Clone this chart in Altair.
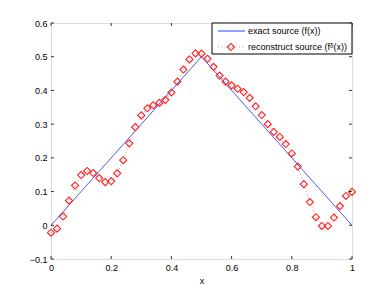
import altair as alt
import pandas as pd

# ---- data ----
x_vals = [0.00, 0.02, 0.04, 0.06, 0.08, 0.10, 0.12, 0.14, 0.16, 0.18,
          0.20, 0.22, 0.24, 0.26, 0.28, 0.30, 0.32, 0.34, 0.36, 0.38,
          0.40, 0.42, 0.44, 0.46, 0.48, 0.50, 0.52, 0.54, 0.56, 0.58,
          0.60, 0.62, 0.64, 0.66, 0.68, 0.70, 0.72, 0.74, 0.76, 0.78,
          0.80, 0.82, 0.84, 0.86, 0.88, 0.90, 0.92, 0.94, 0.96, 0.98, 1.00]
recon_vals = [-0.022, -0.010, 0.026, 0.073, 0.118, 0.149, 0.161, 0.155, 0.140, 0.128,
              0.131, 0.154, 0.193, 0.243, 0.291, 0.326, 0.347, 0.356, 0.363, 0.372,
              0.394, 0.426, 0.462, 0.492, 0.510, 0.509, 0.494, 0.470, 0.444, 0.426,
              0.415, 0.405, 0.395, 0.378, 0.353, 0.327, 0.300, 0.277, 0.262, 0.241,
              0.213, 0.174, 0.122, 0.069, 0.024, -0.002, -0.002, 0.023, 0.057, 0.087, 0.099]
exact_x = [0.0, 0.5, 1.0]
exact_y = [0.0, 0.5, 0.0]
x_ticks = [0, 0.2, 0.4, 0.6, 0.8, 1.0]
y_ticks = [-0.1, 0, 0.1, 0.2, 0.3, 0.4, 0.5, 0.6]
legend_labels = ["exact source (f(x))", "reconstruct source (f\u1d5f(x))"]

W, H = 301, 236
FONT = "Liberation Sans"
BLUE = "#4a5ef2"
RED = "#ff2020"

recon = pd.DataFrame({"x": x_vals, "y": recon_vals})
exact = pd.DataFrame({"x": exact_x, "y": exact_y})
xt = pd.DataFrame({"x": x_ticks})
yt = pd.DataFrame({"y": y_ticks})

xs = alt.Scale(domain=[0, 1], nice=False, zero=False)
ys = alt.Scale(domain=[-0.1, 0.6], nice=False, zero=False)

xaxis = alt.Axis(values=x_ticks, format="~g", ticks=False, domain=False, grid=False,
                 labelPadding=4, labelOverlap=False, labelFlush=False, labelBound=False,
                 title="x", titlePadding=4,
                 labelFont=FONT, labelFontSize=9, labelColor="black",
                 titleFont=FONT, titleFontSize=9, titleFontWeight="normal", titleColor="black")
yaxis = alt.Axis(values=y_ticks, format="~g", ticks=False, domain=False, grid=False,
                 labelPadding=4, labelOverlap=False, labelFlush=False, labelBound=False,
                 title=None,
                 labelFont=FONT, labelFontSize=9, labelColor="black")

X = alt.X("x:Q", scale=xs, axis=xaxis)
Y = alt.Y("y:Q", scale=ys, axis=yaxis)

exact_line = alt.Chart(exact).mark_line(color=BLUE, strokeWidth=1).encode(x=X, y=Y)
recon_line = alt.Chart(recon).mark_line(color=RED, strokeWidth=1, strokeDash=[1, 2.5], opacity=0.55).encode(
    x=X, y=Y)
recon_pts = alt.Chart(recon).mark_point(shape="diamond", size=50, color=RED, filled=False,
                                        strokeWidth=1.1, opacity=1).encode(x=X, y=Y)

tick_len = 3
xb = alt.Chart(xt).mark_rule(color="black", strokeWidth=0.8).encode(
    x=X, y=alt.value(H), y2=alt.value(H - tick_len))
xtop = alt.Chart(xt).mark_rule(color="black", strokeWidth=0.8).encode(
    x=X, y=alt.value(0), y2=alt.value(tick_len))
yl = alt.Chart(yt).mark_rule(color="black", strokeWidth=0.8).encode(
    y=Y, x=alt.value(0), x2=alt.value(tick_len))
yr = alt.Chart(yt).mark_rule(color="black", strokeWidth=0.8).encode(
    y=Y, x=alt.value(W), x2=alt.value(W - tick_len))

one = alt.Data(values=[{"a": 1}])
lx0, lx1, ly0, ly1 = 161, W, 0, 31
leg_box = alt.Chart(one).mark_rect(fill="white", stroke="black", strokeWidth=1).encode(
    x=alt.value(lx0), x2=alt.value(lx1), y=alt.value(ly0), y2=alt.value(ly1))
leg_l1 = alt.Chart(one).mark_rule(color=BLUE, strokeWidth=1.2).encode(
    x=alt.value(167), x2=alt.value(194), y=alt.value(8))
leg_l2 = alt.Chart(one).mark_rule(color=RED, strokeWidth=1, strokeDash=[1, 2.5], opacity=0.55).encode(
    x=alt.value(167), x2=alt.value(194), y=alt.value(24))
leg_pt = alt.Chart(one).mark_point(shape="diamond", size=50, color=RED, filled=False, strokeWidth=1.1,
                                   opacity=1).encode(
    x=alt.value(180), y=alt.value(24))
leg_t1 = alt.Chart(one).mark_text(align="left", baseline="middle", font=FONT, fontSize=9, color="black").encode(
    x=alt.value(197), y=alt.value(8), text=alt.value(legend_labels[0]))
leg_t2 = alt.Chart(one).mark_text(align="left", baseline="middle", font=FONT, fontSize=9, color="black").encode(
    x=alt.value(197), y=alt.value(24), text=alt.value(legend_labels[1]))

chart = alt.layer(
    exact_line, recon_line, recon_pts, xb, xtop, yl, yr,
    leg_box, leg_l1, leg_l2, leg_pt, leg_t1, leg_t2
).properties(
    width=W, height=H,
    autosize=alt.AutoSizeParams(type="none"),
    padding={"left": 43, "top": 15, "right": 20, "bottom": 25},
).configure_view(stroke="black", strokeWidth=1).configure(background="white")

chart.save("out.html", embed_options={"renderer": "svg", "actions": False})
